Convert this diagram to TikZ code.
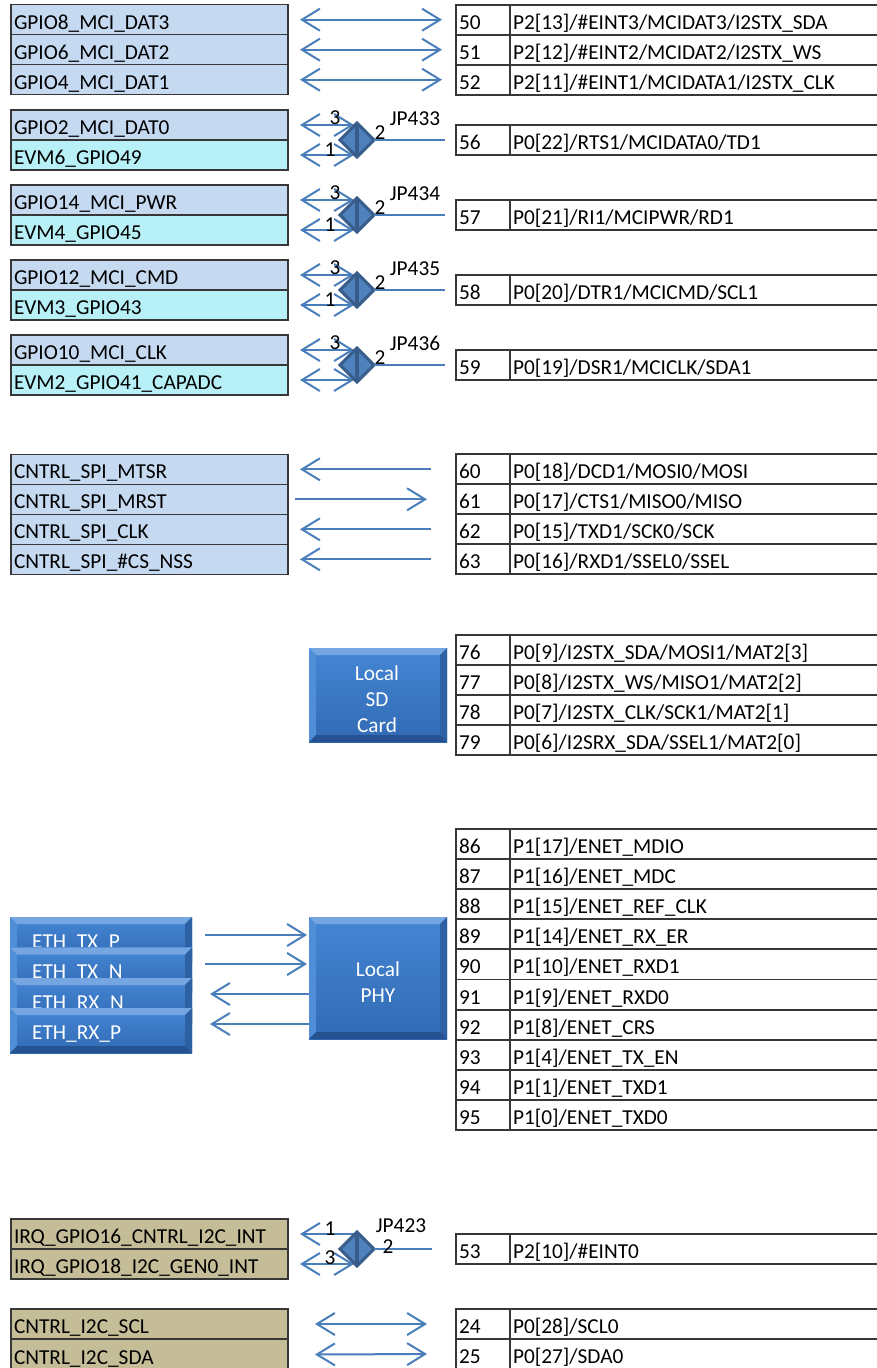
\documentclass[tikz,border=0pt]{standalone}
\usepackage{fontspec}
\setmainfont{Carlito}
\usetikzlibrary{arrows.meta,shapes.geometric,calc}
\definecolor{lblue}{RGB}{197,217,241}
\definecolor{lcyan}{RGB}{183,240,246}
\definecolor{ltan}{RGB}{196,189,151}
\definecolor{arrc}{RGB}{74,126,187}
\definecolor{gridc}{RGB}{55,55,55}
\definecolor{jdark}{RGB}{56,93,138}
\definecolor{jfill}{RGB}{79,129,189}
\definecolor{bevtopc}{RGB}{68,134,212}
\definecolor{bevbotc}{RGB}{50,106,180}
\definecolor{bevlt}{RGB}{118,166,226}
\definecolor{bevlf}{RGB}{80,142,216}
\definecolor{bevrt}{RGB}{46,96,164}
\definecolor{bevbt}{RGB}{38,82,146}
\newcommand\cf{\fontsize{21.3}{26}\selectfont}
\newcommand\Lrow[4]{\node[lcell,fill=#3] (#1) at (11,#2) {#4};}
\newcommand\Rrow[4]{%
  \node[rnum] (#1n) at (456,#2) {#3};
  \node[rtxt] (#1t) at (510,#2) {#4};
  \draw[tline] (#1n.north west) -- (#1t.north east);
  \draw[tline] (#1n.south west) -- (#1t.south east);
  \draw[tline] (#1n.north west) -- (#1n.south west);
  \draw[tline] (#1t.north west) -- (#1t.south west);}
\newcommand\bevbox[5]{%
  \node[bevnode, minimum width=#4pt, minimum height=#5pt] (#1) at (#2,#3) {};
  \fill[bevlt] (#1.north west) -- (#1.north east) -- ([shift={(-7,7)}]#1.north east) -- ([shift={(7,7)}]#1.north west) -- cycle;
  \fill[bevlf] (#1.north west) -- ([shift={(7,7)}]#1.north west) -- ([shift={(7,-7)}]#1.south west) -- (#1.south west) -- cycle;
  \fill[bevrt] (#1.north east) -- ([shift={(-7,7)}]#1.north east) -- ([shift={(-7,-7)}]#1.south east) -- (#1.south east) -- cycle;
  \fill[bevbt] (#1.south west) -- ([shift={(7,-7)}]#1.south west) -- ([shift={(-7,-7)}]#1.south east) -- (#1.south east) -- cycle;}
\newcommand\jgroup[7]{%
  \Lrow{#1a}{#2-30}{lblue}{#3}
  \Lrow{#1b}{#2}{lcyan}{#4}
  \Rrow{#1p}{#2-15}{#5}{#6}
  \coordinate (#1c) at (357,#2);
  \draw[dbl] ([xshift=12pt]#1a.east) -- ($(#1a.east -| #1c)+(-3,0)$);
  \draw[dbl] ([xshift=12pt]#1b.east) -- ($(#1b.east -| #1c)+(-3,0)$);
  \node[jdiam] (#1j) at (#1c) {};
  \draw[jbar] (#1j.north) -- (#1j.south);
  \draw[arrbase] (#1j.east) -- ([xshift=-11pt]#1pn.west);
  \node[jl] (#1l3) at (335,#2-22) {3};
  \node[jl] (#1l2) at (380,#2-7) {2};
  \node[jl] (#1lj) at (415,#2-21) {#7};}
\begin{document}
\begin{tikzpicture}[x=1pt,y=-1pt,
  lcell/.style={draw=gridc, line width=1.5pt, anchor=north west, minimum height=30pt,
    text width=271pt, inner xsep=3pt, inner ysep=0pt, outer sep=0pt,
    text height=23pt, text depth=4pt, align=left, font=\cf},
  rnum/.style={anchor=north west, minimum height=30pt, text width=48pt, inner xsep=3pt,
    inner ysep=0pt, outer sep=0pt, text height=23pt, text depth=4pt, align=left, font=\cf},
  rtxt/.style={rnum, text width=360pt},
  tline/.style={draw=gridc, line width=1.8pt, line cap=rect},
  arrbase/.style={draw=arrc, line width=2pt},
  dbl/.style={arrbase, >={Straight Barb[length=18pt,width=22pt]}, <->},
  lft/.style={arrbase, >={Straight Barb[length=18pt,width=22pt]}, <-},
  rgt/.style={arrbase, >={Straight Barb[length=18pt,width=22pt]}, ->},
  jdiam/.style={diamond, draw=jdark, line width=3pt, fill=jfill, minimum width=34pt,
    minimum height=34pt, inner sep=0pt, outer sep=0pt, aspect=1},
  jbar/.style={draw=jdark, line width=4pt},
  jl/.style={font=\cf, inner sep=0pt, text height=13.5pt, text depth=0pt},
  bevnode/.style={anchor=north west, inner sep=0pt, outer sep=0pt, top color=bevtopc, bottom color=bevbotc},
  bevtxt/.style={font=\cf, text=white, align=center, inner sep=0pt},
  ethtxt/.style={font=\cf, text=white, anchor=base west, inner sep=0pt}]
\useasboundingbox (0,0) rectangle (876,1368);
\fill[white] (0,0) rectangle (876,1368);

% group 1
\Lrow{g8}{4.7}{lblue}{GPIO8\_MCI\_DAT3}
\Lrow{g6}{34.7}{lblue}{GPIO6\_MCI\_DAT2}
\Lrow{g4}{64.7}{lblue}{GPIO4\_MCI\_DAT1}
\Rrow{p50}{4.7}{50}{P2[13]/\#EINT3/MCIDAT3/I2STX\_SDA}
\Rrow{p51}{34.7}{51}{P2[12]/\#EINT2/MCIDAT2/I2STX\_WS}
\Rrow{p52}{64.7}{52}{P2[11]/\#EINT1/MCIDATA1/I2STX\_CLK}
\draw[dbl] ([xshift=12pt]g8.east) -- ([xshift=-14pt]p50n.west);
\draw[dbl] ([xshift=12pt]g6.east) -- ([xshift=-14pt]p51n.west);
\draw[dbl] ([xshift=12pt]g4.east) -- ([xshift=-14pt]p52n.west);

% jumpers
\jgroup{ja}{140}{GPIO2\_MCI\_DAT0}{EVM6\_GPIO49}{56}{P0[22]/RTS1/MCIDATA0/TD1}{JP433}
\node[jl] (jal1) at (330,150) {1};
\jgroup{jb}{215}{GPIO14\_MCI\_PWR}{EVM4\_GPIO45}{57}{P0[21]/RI1/MCIPWR/RD1}{JP434}
\node[jl] (jbl1) at (330,225) {1};
\jgroup{jc}{290}{GPIO12\_MCI\_CMD}{EVM3\_GPIO43}{58}{P0[20]/DTR1/MCICMD/SCL1}{JP435}
\node[jl] (jcl1) at (330,300) {1};
\jgroup{jd}{365}{GPIO10\_MCI\_CLK}{EVM2\_GPIO41\_CAPADC}{59}{P0[19]/DSR1/MCICLK/SDA1}{JP436}

% SPI
\Lrow{s1}{454.3}{lblue}{CNTRL\_SPI\_MTSR}
\Lrow{s2}{484.3}{lblue}{CNTRL\_SPI\_MRST}
\Lrow{s3}{514.3}{lblue}{CNTRL\_SPI\_CLK}
\Lrow{s4}{544.3}{lblue}{CNTRL\_SPI\_\#CS\_NSS}
\Rrow{q60}{454.3}{60}{P0[18]/DCD1/MOSI0/MOSI}
\Rrow{q61}{484.3}{61}{P0[17]/CTS1/MISO0/MISO}
\Rrow{q62}{514.3}{62}{P0[15]/TXD1/SCK0/SCK}
\Rrow{q63}{544.3}{63}{P0[16]/RXD1/SSEL0/SSEL}
\draw[lft] ([xshift=12pt]s1.east) -- ([xshift=-25pt]q60n.west);
\draw[rgt] ([xshift=7pt]s2.east) -- ([xshift=-29pt]q61n.west);
\draw[lft] ([xshift=12pt]s3.east) -- ([xshift=-25pt]q62n.west);
\draw[lft] ([xshift=12pt]s4.east) -- ([xshift=-25pt]q63n.west);

% SD card
\bevbox{sd}{309}{648}{138}{94}
\node[bevtxt] (sdt) at (377,699) {Local\\SD\\Card};
\Rrow{r76}{635}{76}{P0[9]/I2STX\_SDA/MOSI1/MAT2[3]}
\Rrow{r77}{665}{77}{P0[8]/I2STX\_WS/MISO1/MAT2[2]}
\Rrow{r78}{695}{78}{P0[7]/I2STX\_CLK/SCK1/MAT2[1]}
\Rrow{r79}{725}{79}{P0[6]/I2SRX\_SDA/SSEL1/MAT2[0]}

% PHY
\Rrow{e86}{829}{86}{P1[17]/ENET\_MDIO}
\Rrow{e87}{859.1}{87}{P1[16]/ENET\_MDC}
\Rrow{e88}{889.2}{88}{P1[15]/ENET\_REF\_CLK}
\Rrow{e89}{919.3}{89}{P1[14]/ENET\_RX\_ER}
\Rrow{e90}{949.4}{90}{P1[10]/ENET\_RXD1}
\Rrow{e91}{979.5}{91}{P1[9]/ENET\_RXD0}
\Rrow{e92}{1009.6}{92}{P1[8]/ENET\_CRS}
\Rrow{e93}{1039.7}{93}{P1[4]/ENET\_TX\_EN}
\Rrow{e94}{1069.8}{94}{P1[1]/ENET\_TXD1}
\Rrow{e95}{1099.9}{95}{P1[0]/ENET\_TXD0}
\bevbox{phy}{309}{917}{138}{122}
\node[bevtxt] (phyt) at (378,982) {Local\\PHY};

\bevbox{etp}{10}{917}{182}{45}
\node[ethtxt] (etpt) at (32,948) {ETH\_TX\_P};
\bevbox{etn}{10}{947.5}{182}{45}
\node[ethtxt] (etnt) at (32,978.5) {ETH\_TX\_N};
\bevbox{ern}{10}{978}{182}{45}
\node[ethtxt] (ernt) at (32,1009) {ETH\_RX\_N};
\bevbox{erp}{10}{1008}{182}{45}
\node[ethtxt] (erpt) at (32,1039) {ETH\_RX\_P};

\coordinate (pa1) at (205,935);
\coordinate (pa2) at (205,964);
\coordinate (pa3) at (210,994);
\coordinate (pa4) at (210,1024);
\draw[rgt] (pa1) -- ($(pa1 -| phy.west)+(-2,0)$);
\draw[rgt] (pa2) -- ($(pa2 -| phy.west)+(-2,0)$);
\draw[lft] (pa3) -- (pa3 -| phy.west);
\draw[lft] (pa4) -- (pa4 -| phy.west);

% IRQ jumper
\Lrow{ia}{1219}{ltan}{IRQ\_GPIO16\_CNTRL\_I2C\_INT}
\Lrow{ib}{1249}{ltan}{IRQ\_GPIO18\_I2C\_GEN0\_INT}
\Rrow{ip}{1234}{53}{P2[10]/\#EINT0}
\coordinate (ic) at (357,1249);
\draw[lft] ([xshift=12pt]ia.east) -- ($(ia.east -| ic)+(-1,0)$);
\draw[dbl] ([xshift=12pt]ib.east) -- ($(ib.east -| ic)+(-3,0)$);
\node[jdiam] (ij) at (ic) {};
\draw[jbar] (ij.north) -- (ij.south);
\draw[arrbase] (ij.east) -- ([xshift=-24pt]ipn.west);
\node[jl] (il1) at (330,1229) {1};
\node[jl] (il3) at (330,1258) {3};
\node[jl] (il2) at (388,1247) {2};
\node[jl] (ilj) at (401,1226) {JP423};

% I2C
\Lrow{ca}{1309}{ltan}{CNTRL\_I2C\_SCL}
\Lrow{cb}{1339.5}{ltan}{CNTRL\_I2C\_SDA}
\Rrow{c24}{1309}{24}{P0[28]/SCL0}
\Rrow{c25}{1339}{25}{P0[27]/SDA0}
\draw[dbl] ([xshift=27pt]ca.east) -- ([xshift=-29pt]c24n.west);
\draw[dbl] ([xshift=27pt]cb.east) -- ([xshift=-29pt]c25n.west);
\end{tikzpicture}
\end{document}
